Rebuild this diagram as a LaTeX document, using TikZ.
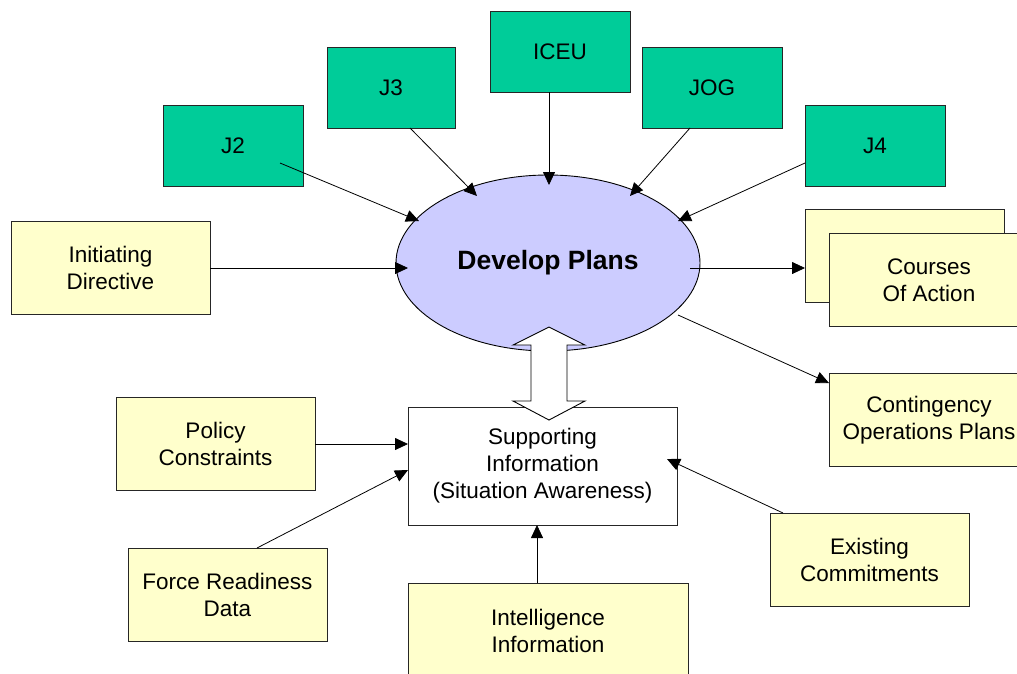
\documentclass[tikz,border=0pt]{standalone}
\usepackage{fontspec}
\setmainfont{Liberation Sans}
\usetikzlibrary{arrows.meta,shapes.geometric}
\definecolor{gboxc}{RGB}{0,204,153}
\definecolor{yboxc}{RGB}{255,255,204}
\definecolor{ellc}{RGB}{204,204,255}
\tikzset{
  basebox/.style={draw=black!85, line width=0.9pt, inner sep=0pt, align=center,
    font=\fontsize{22.5}{27}\selectfont},
  gbox/.style={basebox, fill=gboxc, minimum width=140pt, minimum height=81pt},
  ybox/.style={basebox, fill=yboxc, minimum width=199pt, minimum height=93pt},
  wbox/.style={basebox, fill=white},
  arr/.style={line width=0.8pt, -{Triangle[length=13pt,width=12pt]}},
}
\begin{document}
\begin{tikzpicture}[x=1pt,y=-1pt]
\useasboundingbox (0,0) rectangle (1017,673);
\clip (0,0) rectangle (1017,673);
\fill[white] (0,0) rectangle (1017,673);

% top green boxes
\node[gbox] (j2) at (233,145.5) {J2};
\node[gbox, minimum width=128pt] (j3) at (391,87.5) {J3};
\node[gbox] (iceu) at (560,51.5) {ICEU};
\node[gbox] (jog) at (712,87.5) {JOG};
\node[gbox] (j4) at (875,145.5) {J4};

% central ellipse
\node[ellipse, draw=black, line width=0.9pt, fill=ellc, minimum width=304pt, minimum height=176pt,
  inner sep=0pt, font=\bfseries\fontsize{26.5}{30}\selectfont] (dp) at (548,263) {Develop Plans};

% yellow boxes
\node[ybox] (init) at (110.5,267.5) {Initiating\\Directive};
\node[ybox] (coab) at (904.5,256) {};
\node[ybox, minimum width=200pt] (coa) at (929,280) {Courses\\Of Action};
\node[ybox, minimum width=200pt] (cont) at (929,420) {Contingency\\Operations Plans};
\node[ybox] (pol) at (215.5,443.5) {Policy\\Constraints};
\node[ybox] (force) at (227.5,594.5) {Force Readiness\\Data};
\node[ybox] (exist) at (869.5,559.5) {Existing\\Commitments};
\node[ybox, minimum width=280pt, minimum height=96pt] (intel) at (548,631) {Intelligence\\Information};

% supporting info
\node[wbox, minimum width=269pt, minimum height=118pt] (sup) at (542.5,466) {Supporting\\Information\\(Situation Awareness)};

% connector end points
\coordinate (j2s) at (280,163);   \coordinate (j2e) at (419,221);
\coordinate (j3s) at (410,128);   \coordinate (j3e) at (477,196);
\coordinate (iceus) at (549,92);  \coordinate (iceue) at (549,185);
\coordinate (jogs) at (690,128);  \coordinate (joge) at (630,196);
\coordinate (j4s) at (805,163);   \coordinate (j4e) at (678,221);
\coordinate (inite) at (408,268);
\coordinate (dpcoa) at (690,268); \coordinate (coae) at (805,268);
\coordinate (dpcont) at (678,315);\coordinate (conte) at (829,383);
\coordinate (pole) at (408,444);
\coordinate (forces) at (257,548);\coordinate (forcee) at (408,470);
\coordinate (exists) at (783,513);\coordinate (existe) at (667,459);
\coordinate (intels) at (537,583);\coordinate (intele) at (537,525);

\draw[arr] (j2s) -- (j2e);
\draw[arr] (j3s) -- (j3e);
\draw[arr] (iceus) -- (iceue);
\draw[arr] (jogs) -- (joge);
\draw[arr] (j4s) -- (j4e);
\draw[arr] (init.east |- inite) -- (inite);
\draw[arr] (dpcoa) -- (coae);
\draw[arr] (dpcont) -- (conte);
\draw[arr] (pol.east |- pole) -- (pole);
\draw[arr] (forces) -- (forcee);
\draw[arr] (exists) -- (existe);
\draw[arr] (intels) -- (intele);

% double block arrow between ellipse and supporting info
\draw[fill=white, line width=0.9pt, line join=miter]
  (549,327) -- (585,345) -- (567,345) -- (567,401) -- (585,401) -- (549,420)
  -- (513,401) -- (531,401) -- (531,345) -- (513,345) -- cycle;
\end{tikzpicture}
\end{document}
